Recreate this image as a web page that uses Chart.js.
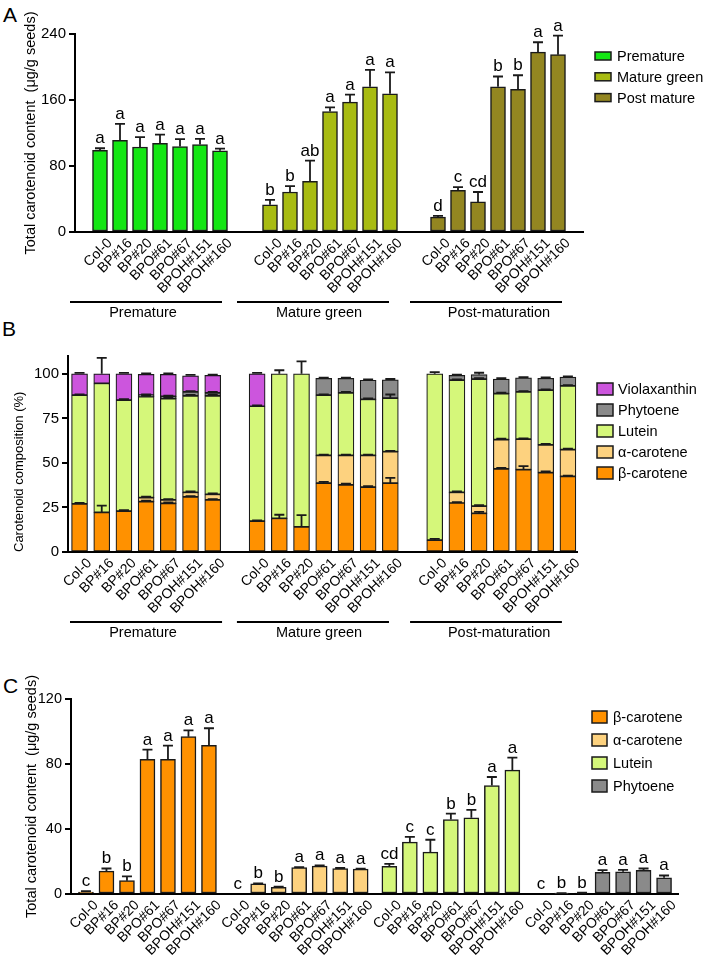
<!DOCTYPE html>
<html>
<head>
<meta charset="utf-8">
<script src="https://cdn.jsdelivr.net/npm/chart.js@4.4.0/dist/chart.umd.min.js"></script>
<style>
  body { margin: 0; background: #fff; width: 709px; height: 968px; position: relative; overflow: hidden;
         font-family: "Liberation Sans", Arial, Helvetica, sans-serif; }
  canvas { position: absolute; left: 0; }
  .tag { position: absolute; font-size: 21px; line-height: 1; color: #000; }
</style>
</head>
<body>
<div class="tag" style="left:3px;top:4px">A</div>
<div class="tag" style="left:2px;top:318px">B</div>
<div class="tag" style="left:3px;top:675px">C</div>
<canvas id="chartA" width="709" height="325" style="top:0"></canvas>
<canvas id="chartB" width="709" height="320" style="top:325px"></canvas>
<canvas id="chartC" width="709" height="323" style="top:645px"></canvas>
<script>
// ---- data ----
const lines = ["Col-0", "BP#16", "BP#20", "BPO#61", "BPO#67", "BPOH#151", "BPOH#160"];
const stageNames = ["Premature", "Mature green", "Post-maturation"];
const seriesA = ["Premature", "Mature green", "Post mature"];

// A: total carotenoid content (ug/g seeds)
const totalPremature = [99, 111, 103, 107.5, 103.5, 106, 98.5];
const totalPrematureErr = [2.5, 20, 12, 10.5, 9, 7, 2.5];
const totalMatureGreen = [33, 48.5, 61.5, 146, 157.5, 176, 167.5];
const totalMatureGreenErr = [6, 7, 25, 5, 9, 20.5, 26];
const totalPostMature = [18, 50.5, 36.5, 176, 173, 218, 215];
const totalPostMatureErr = [1.5, 4, 12, 12.5, 17, 12, 23];
const lettersPremature = ["a", "a", "a", "a", "a", "a", "a"];
const lettersMatureGreen = ["b", "b", "ab", "a", "a", "a", "a"];
const lettersPostMature = ["d", "c", "cd", "b", "b", "a", "a"];
const yTicksA = [0, 80, 160, 240];

// B: composition (%), premature | mature green | post-maturation
const betaPct = [27, 22.2, 23, 28.3, 27.3, 30.9, 29.2, 17.3, 18.9, 14.1, 38.6, 37.7, 36.4, 38.6, 6.6, 27.5, 21.7, 46.7, 46.2, 44.5, 42.4];
const alphaPct = [0, 0, 0, 2.2, 1.9, 2.6, 3.2, 0, 0, 0, 15.6, 16.5, 17.8, 17.7, 0, 6, 4.1, 16.4, 17.1, 15.6, 15.1];
const luteinPct = [61, 72.5, 62.3, 56.7, 56.9, 54.1, 55.2, 64.5, 81.1, 85.9, 33.8, 35.1, 31.5, 30.1, 93.4, 62.9, 71.2, 25.8, 26.5, 30.7, 35.7];
const phytoenePct = [0, 0, 0, 0.8, 1.2, 2.2, 1.7, 0, 0, 0, 9.4, 8.1, 10.7, 10.2, 0, 2.7, 2.6, 8.1, 7.9, 6.7, 4.9];
const violaPct = [12, 5.3, 14.7, 11.7, 12.4, 9.1, 9.8, 18.2, 0, 0, 0, 0, 0, 0, 0, 0, 0, 0, 0, 0, 0];
const betaPctErr = [0.5, 3.8, 0.5, 0.5, 0.5, 0.5, 0.5, 0.5, 2, 6.6, 0.7, 0.7, 0.5, 3, 0.8, 0.5, 0.8, 0.5, 2, 0.7, 0.5];
const alphaPctErr = [0, 0, 0, 0.5, 0.5, 0.5, 0.5, 0, 0, 0, 0.5, 0.5, 0.5, 0.5, 0, 0.5, 0.5, 0.5, 0.5, 0.5, 0.5];
const luteinPctErr = [0.5, 0, 0.5, 0.5, 0.5, 0.5, 0.5, 0.5, 2, 7, 0.5, 0.5, 0.5, 2, 1, 0.5, 0.5, 0.5, 0.5, 0.5, 0.5];
const phytoenePctErr = [0, 0, 0, 0.5, 0.5, 0.5, 0.5, 0, 0, 0, 0.5, 0.5, 0.5, 0.5, 0, 0.5, 1, 0.5, 0.5, 0.5, 0.5];
const violaPctErr = [0.5, 9, 0.5, 0.5, 0.5, 0.5, 0.5, 0.5, 0, 0, 0, 0, 0, 0, 0, 0, 0, 0, 0, 0, 0];
const yTicksB = [0, 25, 50, 75, 100];

// C: individual carotenoids (ug/g seeds), post-maturation
const pigmentsC = ["β-carotene", "α-carotene", "Lutein", "Phytoene"];
const betaC = [1.2, 14.1, 8.2, 82.9, 82.9, 96.8, 91.5];
const betaCErr = [0.5, 1.6, 2.6, 5.9, 8.4, 3.9, 10.5];
const alphaC = [0, 6.3, 4.1, 16.2, 17.2, 15.7, 15.3];
const alphaCErr = [0, 0.3, 0.5, 0.3, 0.4, 0.3, 0.3];
const luteinC = [17, 31.9, 25.8, 45.8, 46.9, 66.7, 76.2];
const luteinCErr = [1.6, 3.3, 7.6, 3.7, 4.9, 5.3, 7.7];
const phytoeneC = [0, 0.4, 0.6, 13.3, 13.7, 14.5, 10];
const phytoeneCErr = [0, 0.2, 0.2, 1.4, 1.2, 1.2, 1.4];
const lettersBetaC = ["c", "b", "b", "a", "a", "a", "a"];
const lettersAlphaC = ["c", "b", "b", "a", "a", "a", "a"];
const lettersLuteinC = ["cd", "c", "c", "b", "b", "a", "a"];
const lettersPhytoeneC = ["c", "b", "b", "a", "a", "a", "a"];
const yTicksC = [0, 40, 80, 120];

// ---- styling ----
const FONT = '"Liberation Sans", Arial, Helvetica, sans-serif';
Chart.defaults.font.family = FONT;
Chart.defaults.color = "#000";
Chart.defaults.animation = false;
const EDGE = "#1a1a1a";
const colBeta = "#ff9100", colAlpha = "#fdd27f", colLutein = "#d5f77a", colPhytoene = "#8a8a8a", colViola = "#cc55dd";

function positions(offsets) {
  const out = [];
  offsets.forEach(o => lines.forEach((_, i) => out.push(o + i)));
  return out;
}

// error bars + significance letters
const errorBars = {
  id: "errorBars",
  afterDatasetsDraw(chart) {
    const { ctx } = chart;
    const ys = chart.scales.y;
    ctx.save();
    chart.data.datasets.forEach((ds, di) => {
      const meta = chart.getDatasetMeta(di);
      meta.data.forEach((bar, i) => {
        const err = ds.errors ? ds.errors[i] : 0;
        const len = ys.getPixelForValue(0) - ys.getPixelForValue(err || 0);
        const top = bar.y - len;
        if (err && ds.data[i].y) {
          ctx.strokeStyle = EDGE;
          ctx.lineWidth = 1.8;
          ctx.beginPath();
          ctx.moveTo(bar.x, bar.y);
          ctx.lineTo(bar.x, top);
          ctx.moveTo(bar.x - 5, top);
          ctx.lineTo(bar.x + 5, top);
          ctx.stroke();
        }
        if (ds.letters) {
          ctx.fillStyle = "#000";
          ctx.font = "17px " + FONT;
          ctx.textAlign = "center";
          ctx.textBaseline = "alphabetic";
          ctx.fillText(ds.letters[i], bar.x, top - 5);
        }
      });
    });
    ctx.restore();
  }
};

function legendBox(cfg) {
  return {
    id: "legendBox",
    afterDraw(chart) {
      const { ctx } = chart;
      let sets = chart.data.datasets.slice();
      if (cfg.reverse) sets.reverse();
      ctx.save();
      sets.forEach((ds, k) => {
        const cy = cfg.y0 + k * cfg.gap;
        ctx.fillStyle = ds.backgroundColor;
        ctx.fillRect(cfg.x, cy - cfg.h / 2, cfg.w, cfg.h);
        ctx.strokeStyle = EDGE;
        ctx.lineWidth = 1.5;
        ctx.strokeRect(cfg.x, cy - cfg.h / 2, cfg.w, cfg.h);
        ctx.fillStyle = "#000";
        ctx.font = "14.5px " + FONT;
        ctx.textAlign = "left";
        ctx.textBaseline = "middle";
        ctx.fillText(ds.label, cfg.textX, cy + 1);
      });
      ctx.restore();
    }
  };
}

function groupLabels(cfg) {
  return {
    id: "groupLabels",
    afterDraw(chart) {
      const { ctx, chartArea } = chart;
      const xs = chart.scales.x;
      const ly = chartArea.bottom + cfg.dy;
      ctx.save();
      cfg.spans.forEach((s, g) => {
        ctx.strokeStyle = "#000";
        ctx.lineWidth = 2;
        ctx.beginPath();
        ctx.moveTo(xs.getPixelForValue(s[0]), ly);
        ctx.lineTo(xs.getPixelForValue(s[1]), ly);
        ctx.stroke();
        ctx.fillStyle = "#000";
        ctx.font = "14.5px " + FONT;
        ctx.textAlign = "center";
        ctx.textBaseline = "alphabetic";
        ctx.fillText(stageNames[g], xs.getPixelForValue(cfg.textAt[g]), ly + 15);
      });
      ctx.restore();
    }
  };
}

function axes(o) {
  return {
    x: {
      type: "linear", min: o.xMin, max: o.xMax, offset: false, stacked: !!o.stacked,
      grid: { display: false, drawTicks: false },
      border: { display: true, color: "#000", width: 2 },
      afterBuildTicks: s => { s.ticks = o.xPos.map(v => ({ value: v })); },
      afterFit: s => { s.height = o.xH; },
      ticks: {
        autoSkip: false, minRotation: 45, maxRotation: 45, padding: 3, labelOffset: 10,
        font: { size: 14 }, color: "#000",
        callback: (v, i) => o.xLabels[i]
      }
    },
    y: {
      min: 0, max: o.yMax, stacked: !!o.stacked,
      afterBuildTicks: s => { s.ticks = o.yTicks.map(v => ({ value: v })); },
      afterFit: s => { s.width = o.yW; },
      grid: { display: true, drawOnChartArea: false, drawTicks: true, tickLength: 6, color: "#000", lineWidth: 2 },
      border: { display: true, color: "#000", width: 2 },
      ticks: { font: { size: o.yTickSize }, padding: 3, color: "#000" },
      title: {
        display: true, text: o.yTitle, align: o.titleAlign || "center",
        font: { size: o.titleSize }, padding: { top: o.titlePad, bottom: 0 }
      }
    }
  };
}

// ---- A ----
const offsetsA = [0, 8.5, 16.9];
const totalsA = [totalPremature, totalMatureGreen, totalPostMature];
const totalsErrA = [totalPrematureErr, totalMatureGreenErr, totalPostMatureErr];
const lettersA = [lettersPremature, lettersMatureGreen, lettersPostMature];
const colorsA = ["#14e614", "#a8bb12", "#938621"];

new Chart(document.getElementById("chartA"), {
  type: "bar",
  data: {
    datasets: seriesA.map((name, g) => ({
      label: name,
      data: totalsA[g].map((v, i) => ({ x: offsetsA[g] + i, y: v })),
      errors: totalsErrA[g],
      letters: lettersA[g],
      backgroundColor: colorsA[g],
      borderColor: EDGE, borderWidth: 1.5, borderSkipped: false,
      barThickness: 15, grouped: false
    }))
  },
  options: {
    responsive: false,
    layout: { padding: { top: 34, left: 0, right: 126, bottom: 0 } },
    plugins: { legend: { display: false }, tooltip: { enabled: false } },
    scales: axes({
      xMin: -1.25, xMax: 24.15, xH: 93, xPos: positions(offsetsA),
      xLabels: positions(offsetsA).map((_, k) => lines[k % 7]),
      yMax: 240, yTicks: yTicksA, yW: 75, yTickSize: 15,
      titlePad: 22, titleSize: 14.5,
      yTitle: "Total carotenoid content  (μg/g seeds)"
    })
  },
  plugins: [errorBars,
    legendBox({ x: 595, y0: 56, gap: 20.8, w: 16, h: 8, textX: 617 }),
    groupLabels({ dy: 70, spans: [[-1.5, 6.1], [6.85, 14.45], [15.5, 23.1]], textAt: [2.15, 10.95, 19.95] })]
});

// ---- B ----
const offsetsB = [0, 8, 16];
const posB = positions(offsetsB);
const stackB = [
  ["β-carotene", betaPct, betaPctErr, colBeta],
  ["α-carotene", alphaPct, alphaPctErr, colAlpha],
  ["Lutein", luteinPct, luteinPctErr, colLutein],
  ["Phytoene", phytoenePct, phytoenePctErr, colPhytoene],
  ["Violaxanthin", violaPct, violaPctErr, colViola]
];

new Chart(document.getElementById("chartB"), {
  type: "bar",
  data: {
    datasets: stackB.map(([name, vals, errs, col]) => ({
      label: name,
      data: vals.map((v, i) => ({ x: posB[i], y: v })),
      errors: errs,
      backgroundColor: col,
      borderColor: EDGE, borderWidth: 1.2, borderSkipped: false,
      barThickness: 16
    }))
  },
  options: {
    responsive: false,
    layout: { padding: { top: 31, left: 0, right: 132, bottom: 0 } },
    plugins: { legend: { display: false }, tooltip: { enabled: false } },
    scales: axes({
      stacked: true,
      xMin: -0.52, xMax: 22.41, xH: 93, xPos: posB,
      xLabels: posB.map((_, k) => lines[k % 7]),
      yMax: 110, yTicks: yTicksB, yW: 68, yTickSize: 15,
      titlePad: 12, titleSize: 13, titleAlign: "start",
      yTitle: "Carotenoid composition (%)"
    })
  },
  plugins: [errorBars,
    legendBox({ x: 597, y0: 64, gap: 21, w: 16, h: 12, textX: 618, reverse: true }),
    groupLabels({ dy: 70, spans: [[-0.43, 6.42], [7.09, 13.94], [14.89, 21.73]], textAt: [2.86, 10.79, 18.9] })]
});

// ---- C ----
const offsetsC = [0, 7.4, 14.8, 22.2];
const valuesC = [betaC, alphaC, luteinC, phytoeneC];
const errsC = [betaCErr, alphaCErr, luteinCErr, phytoeneCErr];
const lettersC = [lettersBetaC, lettersAlphaC, lettersLuteinC, lettersPhytoeneC];
const colorsC = [colBeta, colAlpha, colLutein, colPhytoene];

new Chart(document.getElementById("chartC"), {
  type: "bar",
  data: {
    datasets: pigmentsC.map((name, g) => ({
      label: name,
      data: valuesC[g].map((v, i) => ({ x: offsetsC[g] + i, y: v })),
      errors: errsC[g],
      letters: lettersC[g],
      backgroundColor: colorsC[g],
      borderColor: EDGE, borderWidth: 1.5, borderSkipped: false,
      barThickness: 15, grouped: false
    }))
  },
  options: {
    responsive: false,
    layout: { padding: { top: 54, left: 0, right: 31, bottom: 0 } },
    plugins: { legend: { display: false }, tooltip: { enabled: false } },
    scales: axes({
      xMin: -0.73, xMax: 28.88, xH: 74, xPos: positions(offsetsC),
      xLabels: positions(offsetsC).map((_, k) => lines[k % 7]),
      yMax: 120, yTicks: yTicksC, yW: 71, yTickSize: 14.5,
      titlePad: 23, titleSize: 14.5,
      yTitle: "Total carotenoid content  (μg/g seeds)"
    })
  },
  plugins: [errorBars,
    legendBox({ x: 592, y0: 72, gap: 23, w: 15, h: 12, textX: 613 })]
});
</script>
</body>
</html>
